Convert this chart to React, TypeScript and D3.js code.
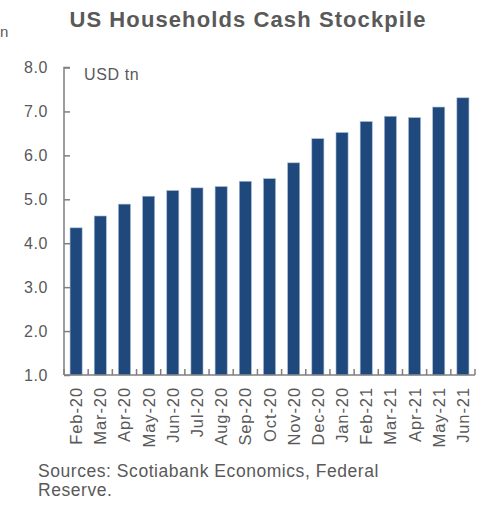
import React, { useEffect, useRef } from "react";
import * as d3 from "d3";

const months = [
  "Feb-20", "Mar-20", "Apr-20", "May-20", "Jun-20", "Jul-20", "Aug-20", "Sep-20", "Oct-20",
  "Nov-20", "Dec-20", "Jan-20", "Feb-21", "Mar-21", "Apr-21", "May-21", "Jun-21",
];
const cashUsdTn = [
  4.35, 4.62, 4.89, 5.07, 5.2, 5.26, 5.29, 5.41, 5.47,
  5.83, 6.38, 6.52, 6.77, 6.89, 6.86, 7.1, 7.31,
];
const yTicks = [1, 2, 3, 4, 5, 6, 7, 8];

const W = 482;
const H = 506;
const FONT = "'Liberation Sans', Arial, sans-serif";
const GREY = "#595959";

const App: React.FC = () => {
  const svgRef = useRef<SVGSVGElement | null>(null);

  useEffect(() => {
    if (!svgRef.current) return;
    const svg = d3.select(svgRef.current);
    svg.selectAll("*").remove();

    const left = 64, right = 475, top = 67.5, bottom = 375;

    const x = d3.scaleBand().domain(months).range([left, right]).paddingInner(0.5).paddingOuter(0.25);
    const y = d3.scaleLinear().domain([1, 8]).range([bottom, top]);

    // title
    svg.append("text")
      .attr("x", 248).attr("y", 27)
      .attr("text-anchor", "middle")
      .attr("font-family", FONT).attr("font-weight", "bold").attr("font-size", 22)
      .attr("letter-spacing", 1.1)
      .attr("fill", GREY)
      .text("US Households Cash Stockpile");

    // leftover glyph at the left edge
    svg.append("text")
      .attr("x", 0).attr("y", 37)
      .attr("font-family", FONT).attr("font-size", 15)
      .attr("fill", GREY)
      .text("n");

    // bars
    svg.append("g")
      .selectAll("rect")
      .data(months.map((m, i) => ({ m, v: cashUsdTn[i] })))
      .enter()
      .append("rect")
      .attr("x", (d) => x(d.m)!)
      .attr("y", (d) => y(d.v))
      .attr("width", x.bandwidth())
      .attr("height", (d) => bottom - y(d.v))
      .attr("fill", "#1F497D")
      .attr("stroke", "#a9bcd6")
      .attr("stroke-width", 0.6);

    // y axis with inward ticks
    const yAxis = svg.append("g")
      .attr("transform", `translate(${left},0)`)
      .call(d3.axisRight(y).tickValues(yTicks).tickSize(6).tickFormat(() => ""));
    yAxis.select(".domain").attr("stroke", "#7f7f7f").attr("stroke-width", 1.5)
      .attr("d", `M6,${top}H0V${bottom}`);
    yAxis.selectAll(".tick line").attr("stroke", "#7f7f7f").attr("stroke-width", 1.5);

    svg.append("g")
      .selectAll("text")
      .data(yTicks)
      .enter()
      .append("text")
      .attr("x", 48).attr("y", (d) => y(d) + 5.5)
      .attr("text-anchor", "end")
      .attr("font-family", FONT).attr("font-size", 16)
      .attr("letter-spacing", 0.6)
      .attr("fill", GREY)
      .text((d) => d3.format(".1f")(d));

    // x axis: ticks between categories, pointing up
    const step = x.step();
    const bounds = d3.range(months.length + 1).map((i) => x(months[0])! - step * 0.25 + i * step);
    const xg = svg.append("g");
    xg.append("line")
      .attr("x1", left).attr("x2", right)
      .attr("y1", bottom).attr("y2", bottom)
      .attr("stroke", "#7f7f7f").attr("stroke-width", 1.5);
    xg.selectAll("line.tk")
      .data(bounds)
      .enter()
      .append("line")
      .attr("class", "tk")
      .attr("x1", (d) => d).attr("x2", (d) => d)
      .attr("y1", bottom).attr("y2", bottom - 6)
      .attr("stroke", "#7f7f7f").attr("stroke-width", 1.5);

    xg.selectAll("text")
      .data(months)
      .enter()
      .append("text")
      .attr("transform", (d) => `translate(${x(d)! + x.bandwidth() / 2 + 6},387) rotate(-90)`)
      .attr("text-anchor", "end")
      .attr("font-family", FONT).attr("font-size", 16.5)
      .attr("letter-spacing", 0.9)
      .attr("fill", GREY)
      .text((d) => d);

    svg.append("text")
      .attr("x", 84).attr("y", 80)
      .attr("font-family", FONT).attr("font-size", 16)
      .attr("letter-spacing", 0.6)
      .attr("fill", GREY)
      .text("USD tn");

    const src = svg.append("text")
      .attr("font-family", FONT).attr("font-size", 17.5)
      .attr("letter-spacing", 0.55)
      .attr("fill", GREY);
    src.append("tspan").attr("x", 38).attr("y", 477).text("Sources: Scotiabank Economics, Federal");
    src.append("tspan").attr("x", 38).attr("y", 496).text("Reserve.");
  }, []);

  return (
    <svg
      ref={svgRef}
      width={W}
      height={H}
      style={{ position: "absolute", left: 0, top: 0, background: "#fff" }}
    />
  );
};

export default App;
